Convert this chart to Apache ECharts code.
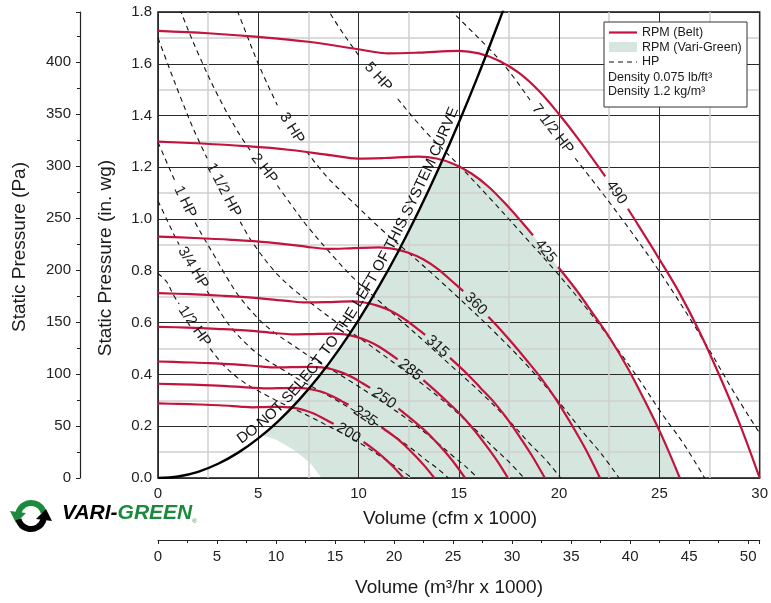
<!DOCTYPE html>
<html><head><meta charset="utf-8">
<script src="https://cdn.jsdelivr.net/npm/echarts@6/dist/echarts.min.js"></script>
<style>html,body{margin:0;padding:0;background:#fff}#c{width:771px;height:603px}</style>
</head><body><div id="c"></div>
<script>
// ---------------- DATA ----------------
const cfmRange = [0, 30];            // Volume (cfm x 1000)
const inwgRange = [0, 1.8];          // Static pressure (in. wg)
const paRange = [0, 448.36];         // same span in Pa
const m3hRange = [0, 50.97];         // same span in m3/hr x 1000

// RPM (belt) curves, split where the rpm label interrupts the line
const rpm490A = [[0,1.727],[2.5,1.718],[5,1.704],[7.5,1.685],[10,1.656],[11.5,1.640],[13,1.643],[15,1.650],[16,1.640],[17,1.612],[18,1.565],[19,1.495],[20,1.405],[21,1.305],[22.3,1.165]];
const rpm490B = [[23.43,1.040],[24,0.970],[25,0.845],[26,0.715],[27,0.565],[28,0.395],[29,0.210],[30,0]];
const rpm425A = [[0,1.299],[2.17,1.292],[4.34,1.282],[6.5,1.268],[8.67,1.246],[9.97,1.234],[11.27,1.236],[13.01,1.241],[13.88,1.234],[14.74,1.213],[15.61,1.177],[16.48,1.125],[17.35,1.057],[18.21,0.982],[18.7,0.937]];
const rpm425B = [[19.95,0.815],[20.82,0.730],[21.68,0.636],[22.55,0.538],[23.42,0.425],[24.28,0.297],[25.15,0.158],[26.02,0]];
const rpm360A = [[0,0.932],[1.84,0.927],[3.67,0.920],[5.51,0.910],[7.35,0.894],[8.45,0.885],[9.55,0.887],[11.02,0.891],[11.76,0.885],[12.49,0.870],[13.22,0.845],[13.96,0.807],[14.69,0.758],[15.22,0.722]];
const rpm360B = [[16.47,0.623],[16.9,0.588],[17.63,0.524],[18.37,0.456],[19.1,0.386],[19.84,0.305],[20.57,0.213],[21.31,0.113],[22.04,0]];
const rpm315A = [[0,0.714],[1.61,0.710],[3.21,0.704],[4.82,0.696],[6.43,0.684],[7.39,0.678],[8.36,0.679],[9.64,0.682],[10.29,0.678],[10.93,0.666],[11.57,0.647],[12.21,0.618],[12.86,0.581],[13.32,0.553]];
const rpm315B = [[14.56,0.464],[15.43,0.401],[16.07,0.349],[16.72,0.296],[17.36,0.234],[18.0,0.163],[18.64,0.087],[19.29,0]];
const rpm285A = [[0,0.584],[1.45,0.581],[2.91,0.576],[4.36,0.570],[5.82,0.560],[6.69,0.555],[7.56,0.556],[8.72,0.558],[9.31,0.555],[9.89,0.545],[10.47,0.529],[11.05,0.506],[11.95,0.458]];
const rpm285B = [[13.23,0.378],[13.96,0.328],[14.54,0.286],[15.12,0.242],[15.7,0.191],[16.28,0.134],[16.87,0.071],[17.45,0]];
const rpm250A = [[0,0.450],[1.28,0.447],[2.55,0.444],[3.83,0.439],[5.1,0.431],[5.87,0.427],[6.63,0.428],[7.65,0.429],[8.16,0.427],[8.67,0.420],[9.18,0.407],[9.69,0.389],[10.2,0.366],[10.58,0.348]];
const rpm250B = [[11.99,0.268],[12.76,0.220],[13.27,0.186],[13.78,0.147],[14.29,0.103],[14.8,0.055],[15.31,0]];
const rpm225A = [[0,0.364],[1.15,0.362],[2.3,0.359],[3.44,0.355],[4.59,0.349],[5.28,0.346],[5.97,0.347],[6.89,0.348],[7.35,0.346],[7.81,0.340],[8.27,0.330],[8.72,0.315],[9.18,0.296],[9.5,0.283]];
const rpm225B = [[11.16,0.195],[11.94,0.151],[12.4,0.119],[12.86,0.083],[13.32,0.044],[13.78,0]];
const rpm200A = [[0,0.288],[1.02,0.286],[2.04,0.284],[3.06,0.281],[4.08,0.276],[4.69,0.273],[5.31,0.274],[6.12,0.275],[6.53,0.273],[6.94,0.269],[7.35,0.261],[7.76,0.249],[8.16,0.234],[8.76,0.209]];
const rpm200B = [[10.25,0.139],[10.61,0.119],[11.02,0.094],[11.43,0.066],[11.84,0.035],[12.24,0]];

// HP lines, split where the HP label interrupts the line
const hp750A = [[13.9,1.86],[15.2,1.76],[17.2,1.60],[18.55,1.46]];
const hp750B = [[20.8,1.235],[22.8,1.035],[25.07,0.79],[27.4,0.506],[28.74,0.328],[30,0.173]];
const hp500A = [[6.95,2.04],[8.6,1.793],[10.0,1.633]];
const hp500B = [[11.95,1.465],[13.28,1.343],[15.03,1.206],[16.6,1.076],[18.17,0.942],[19.92,0.79],[21.9,0.603],[23.94,0.386],[25.11,0.25],[26.21,0.132],[27.26,0]];
const hp300A = [[3.09,1.966],[4.03,1.79],[5.0,1.60],[5.95,1.44]];
const hp300B = [[7.4,1.262],[8.44,1.162],[9.95,1.048],[11.2,0.956],[12.67,0.858],[14.0,0.766],[15.33,0.671],[16.8,0.562],[18.47,0.429],[20.19,0.275],[21.18,0.178],[22.1,0.094],[22.99,0]];
const hp200A = [[0.64,1.91],[1.2,1.79],[2.0,1.64],[3.0,1.475],[4.0,1.335],[4.65,1.26]];
const hp200B = [[5.95,1.13],[6.6,1.06],[7.37,0.98],[8.69,0.86],[9.78,0.77],[11.07,0.68],[12.23,0.60],[13.39,0.52],[14.68,0.429],[16.14,0.327],[17.64,0.21],[18.5,0.136],[19.31,0.072],[20.08,0]];
const hp150A = [[0,1.70],[0.58,1.58],[1.09,1.477],[1.75,1.351],[2.45,1.235]];
const hp150B = [[4.1,0.99],[4.65,0.917],[5.75,0.804],[6.7,0.732],[7.89,0.66],[8.89,0.602],[10.06,0.54],[11.11,0.482],[12.16,0.422],[13.33,0.354],[14.66,0.27],[16.02,0.173],[16.81,0.112],[17.54,0.059],[18.25,0]];
const hp100A = [[0,1.297],[0.51,1.206],[0.85,1.146]];
const hp100B = [[1.85,0.987],[2.15,0.945],[2.79,0.861],[3.47,0.77],[4.06,0.70],[5.03,0.613],[5.85,0.559],[6.9,0.504],[7.77,0.459],[8.79,0.412],[9.71,0.368],[10.63,0.322],[11.65,0.27],[12.81,0.206],[14.0,0.132],[14.68,0.086],[15.33,0.045],[15.94,0]];
const hp075A = [[0,1.07],[0.46,0.995],[0.86,0.93],[1.05,0.902]];
const hp075B = [[2.45,0.722],[3.15,0.635],[3.69,0.577],[4.57,0.506],[5.32,0.461],[6.27,0.416],[7.06,0.379],[7.98,0.34],[8.82,0.304],[9.66,0.266],[10.58,0.223],[11.64,0.17],[12.72,0.109],[13.34,0.071],[13.93,0.037],[14.48,0]];
const hp050A = [[0,0.79],[0.41,0.76],[0.75,0.71],[1.05,0.672]];
const hp050B = [[2.6,0.50],[3.22,0.44],[3.99,0.386],[4.64,0.352],[5.47,0.317],[6.16,0.289],[6.97,0.26],[7.7,0.232],[8.43,0.203],[9.25,0.17],[10.17,0.13],[11.11,0.083],[11.65,0.054],[12.17,0.028],[12.65,0]];

// System curve
const sysCurve = [[0,0],[1,0.006],[2,0.024],[3,0.055],[4,0.098],[5,0.153],[6,0.22],[7,0.299],[8,0.39],[9,0.494],[10,0.61],[11,0.738],[12,0.878],[13,1.031],[14,1.196],[15,1.373],[16,1.562],[17,1.763],[17.5,1.868]];
const sysText = 'DO NOT SELECT TO THE LEFT OF THIS SYSTEM CURVE';

// Vari-Green region boundary pieces
const vgLowerEdge = [[5.2,0.165],[5.9,0.148],[6.8,0.107],[7.6,0.057],[8.15,0]];
const vgCorner = [14.12, 1.222];

const rpmLabels = ['490','425','360','315','285','250','225','200'];
const hpLabels = ['7 1/2 HP','5 HP','3 HP','2 HP','1 1/2 HP','1 HP','3/4 HP','1/2 HP'];

// ---------------- STYLE ----------------
const FONT = 'Liberation Sans';
const RED = '#c2143c';
const VGFILL = '#d5e6de';
const LOGOGREEN = '#1b8a3c';
const INK = '#1a1a1a';
const SMOOTH = 0.35;

const rpmSets = [[rpm490A,rpm490B],[rpm425A,rpm425B],[rpm360A,rpm360B],[rpm315A,rpm315B],[rpm285A,rpm285B],[rpm250A,rpm250B],[rpm225A,rpm225B],[rpm200A,rpm200B]];
const hpSets = [[hp750A,hp750B],[hp500A,hp500B],[hp300A,hp300B],[hp200A,hp200B],[hp150A,hp150B],[hp100A,hp100B],[hp075A,hp075B],[hp050A,hp050B]];

const rpm425All = rpm425A.concat(rpm425B);
const vgPolygon = [vgLowerEdge[0]]
  .concat(sysCurve.filter(p => p[0] > vgLowerEdge[0][0] && p[0] < vgCorner[0]))
  .concat([vgCorner])
  .concat(rpm425All.filter(p => p[0] > vgCorner[0]))
  .concat(vgLowerEdge.slice(1).reverse());

const series = [];
series.push({
  type:'custom', coordinateSystem:'cartesian2d', xAxisIndex:0, yAxisIndex:0,
  data:[[0,0]], z:-1, silent:true,
  renderItem:(params, api) => ({type:'polygon', shape:{points: vgPolygon.map(p => api.coord(p)), smooth:0}, style:{fill:VGFILL}})
});
hpSets.forEach(s => s.forEach(d => series.push({
  type:'line', data:d, smooth:SMOOTH, symbol:'none', silent:true, z:3,
  lineStyle:{color:'#111', width:1.1, type:[5,4]}
})));
series.push({type:'line', data:sysCurve, smooth:SMOOTH, symbol:'none', silent:true, z:5,
  lineStyle:{color:'#000', width:2.4}});
rpmSets.forEach(s => s.forEach(d => series.push({
  type:'line', data:d, smooth:SMOOTH, symbol:'none', silent:true, z:4,
  lineStyle:{color:RED, width:2.2}
})));

const tickLabel = {fontFamily:FONT, fontSize:15, color:'#222'};

const chart = echarts.init(document.getElementById('c'), null, {renderer:'canvas'});
chart.setOption({
  animation:false,
  textStyle:{fontFamily:FONT},
  grid:{left:158, right:9, top:12, bottom:125, show:true, borderColor:'#111', borderWidth:1.5, backgroundColor:'transparent'},
  xAxis:[
    {type:'value', min:cfmRange[0], max:cfmRange[1], interval:5, position:'bottom',
     axisLine:{show:false}, axisTick:{show:false},
     axisLabel:Object.assign({margin:8}, tickLabel),
     splitLine:{show:true, lineStyle:{color:'#2a2a2a', width:1}},
     minorTick:{show:false, splitNumber:2},
     minorSplitLine:{show:true, lineStyle:{color:'#d0d0d0', width:1.5}}},
    {type:'value', min:m3hRange[0], max:m3hRange[1], interval:5, position:'bottom', offset:62,
     axisLine:{show:true, onZero:false, lineStyle:{color:'#222', width:1.2}},
     axisTick:{show:true, length:4, lineStyle:{color:'#222'}},
     minorTick:{show:true, splitNumber:2, length:3, lineStyle:{color:'#222'}},
     axisLabel:Object.assign({margin:9, formatter:v => (Math.abs(v - Math.round(v/5)*5) < 1e-6 ? String(Math.round(v)) : '')}, tickLabel),
     splitLine:{show:false}, minorSplitLine:{show:false}}
  ],
  yAxis:[
    {type:'value', min:inwgRange[0], max:inwgRange[1], interval:0.2,
     axisLine:{show:false}, axisTick:{show:false},
     axisLabel:Object.assign({margin:6, formatter:v => v.toFixed(1)}, tickLabel),
     splitLine:{show:true, lineStyle:{color:'#2a2a2a', width:1}},
     minorTick:{show:false, splitNumber:2},
     minorSplitLine:{show:true, lineStyle:{color:'#d0d0d0', width:1.5}}},
    {type:'value', min:paRange[0], max:paRange[1], interval:50, position:'left', offset:78,
     axisLine:{show:true, onZero:false, lineStyle:{color:'#222', width:1.2}},
     axisTick:{show:true, length:4, lineStyle:{color:'#222'}},
     minorTick:{show:true, splitNumber:2, length:3, lineStyle:{color:'#222'}},
     axisLabel:Object.assign({margin:9, formatter:v => (Math.abs(v - Math.round(v/50)*50) < 1e-6 ? String(Math.round(v)) : '')}, tickLabel),
     splitLine:{show:false}, minorSplitLine:{show:false}}
  ],
  series:series
});

// ---------------- LABELS / DECORATION ----------------
function toPx(p){ return chart.convertToPixel({xAxisIndex:0, yAxisIndex:0}, p); }

function gapLabel(text, a, b, size){
  const pa = toPx(a[a.length-1]), pb = toPx(b[0]);
  const cx = (pa[0]+pb[0])/2, cy = (pa[1]+pb[1])/2;
  const rot = Math.atan2(-(pb[1]-pa[1]), pb[0]-pa[0]);
  return {type:'text', x:cx, y:cy, rotation:rot, silent:true, z:20,
    style:{text:text, fontFamily:FONT, fontSize:size, fill:INK, align:'center', verticalAlign:'middle'}};
}

const measureCtx = document.createElement('canvas').getContext('2d');
function curvedText(str, pts, startX, size, offset){
  const P = pts.map(toPx);
  const L = [0];
  for (let i=1;i<P.length;i++) L.push(L[i-1] + Math.hypot(P[i][0]-P[i-1][0], P[i][1]-P[i-1][1]));
  function at(s){
    let i = 1;
    while (i < P.length-1 && L[i] < s) i++;
    const t = (s - L[i-1]) / (L[i]-L[i-1]);
    return [P[i-1][0] + t*(P[i][0]-P[i-1][0]), P[i-1][1] + t*(P[i][1]-P[i-1][1])];
  }
  const sx = toPx([startX, 0])[0];
  let s0 = 0;
  for (let i=1;i<P.length;i++){
    if (P[i][0] >= sx){ const t=(sx-P[i-1][0])/(P[i][0]-P[i-1][0]); s0 = L[i-1] + t*(L[i]-L[i-1]); break; }
  }
  measureCtx.font = size + 'px "' + FONT + '"';
  const out = [];
  let s = s0;
  for (const ch of str){
    const w = measureCtx.measureText(ch).width;
    const sm = s + w/2;
    const p = at(sm), p1 = at(sm-10), p2 = at(sm+10);
    let tx = p2[0]-p1[0], ty = p2[1]-p1[1];
    const n = Math.hypot(tx,ty); tx/=n; ty/=n;
    const nx = ty, ny = -tx;
    if (ch !== ' ') out.push({type:'text', x:p[0]+nx*offset, y:p[1]+ny*offset, rotation:Math.atan2(-ty, tx), silent:true, z:20,
      style:{text:ch, fontFamily:FONT, fontSize:size, fill:'#111', align:'center', verticalAlign:'bottom'}});
    s += w;
  }
  return out;
}

const graphics = [];
rpmSets.forEach((s,i) => graphics.push(gapLabel(rpmLabels[i], s[0], s[1], 15)));
hpSets.forEach((s,i) => graphics.push(gapLabel(hpLabels[i], s[0], s[1], 15)));
curvedText(sysText, sysCurve, 4.3, 15, 2).forEach(g => graphics.push(g));

// axis titles
graphics.push({type:'text', x:20, y:247, rotation:Math.PI/2, silent:true,
  style:{text:'Static Pressure (Pa)', fontFamily:FONT, fontSize:19, fill:INK, align:'center', verticalAlign:'middle'}});
graphics.push({type:'text', x:106, y:258, rotation:Math.PI/2, silent:true,
  style:{text:'Static Pressure (in. wg)', fontFamily:FONT, fontSize:19, fill:INK, align:'center', verticalAlign:'middle'}});
graphics.push({type:'text', x:450, y:519, silent:true,
  style:{text:'Volume (cfm x 1000)', fontFamily:FONT, fontSize:19, fill:INK, align:'center', verticalAlign:'middle'}});
graphics.push({type:'text', x:449, y:588, silent:true,
  style:{text:'Volume (m³/hr x 1000)', fontFamily:FONT, fontSize:19, fill:INK, align:'center', verticalAlign:'middle'}});

// legend
const lg = {type:'group', x:0, y:0, z:30, silent:true, children:[
  {type:'rect', shape:{x:604, y:22, width:143, height:85}, style:{fill:'#fff', stroke:'#333', lineWidth:1}},
  {type:'line', shape:{x1:609, y1:32.5, x2:637, y2:32.5}, style:{stroke:RED, lineWidth:2.2}},
  {type:'text', x:642, y:33, style:{text:'RPM (Belt)', fontFamily:FONT, fontSize:12.5, fill:INK, verticalAlign:'middle'}},
  {type:'rect', shape:{x:609, y:42, width:28, height:10}, style:{fill:VGFILL}},
  {type:'text', x:642, y:48, style:{text:'RPM (Vari-Green)', fontFamily:FONT, fontSize:12.5, fill:INK, verticalAlign:'middle'}},
  {type:'line', shape:{x1:609, y1:62, x2:637, y2:62}, style:{stroke:'#111', lineWidth:1.1, lineDash:[5,4]}},
  {type:'text', x:642, y:62, style:{text:'HP', fontFamily:FONT, fontSize:12.5, fill:INK, verticalAlign:'middle'}},
  {type:'text', x:608, y:77.5, style:{text:'Density 0.075 lb/ft³', fontFamily:FONT, fontSize:12.5, fill:INK, verticalAlign:'middle'}},
  {type:'text', x:608, y:92, style:{text:'Density 1.2 kg/m³', fontFamily:FONT, fontSize:12.5, fill:INK, verticalAlign:'middle'}}
]};
graphics.push(lg);

// logo
measureCtx.font = 'italic bold 21px "' + FONT + '"';
const wVari = measureCtx.measureText('VARI-').width;
const wGreen = measureCtx.measureText('GREEN').width;
const logo = {type:'group', x:0, y:0, silent:true, children:[
  {type:'arc', shape:{cx:31, cy:516, r:13, startAngle:Math.PI*195/180, endAngle:Math.PI*345/180}, style:{stroke:LOGOGREEN, lineWidth:6, fill:null}},
  {type:'polygon', shape:{points:[[10,511],[26,513],[16,523]]}, style:{fill:LOGOGREEN}},
  {type:'arc', shape:{cx:31, cy:516, r:13, startAngle:Math.PI*15/180, endAngle:Math.PI*165/180}, style:{stroke:'#000', lineWidth:6, fill:null}},
  {type:'polygon', shape:{points:[[52,521],[36,519],[46,509]]}, style:{fill:'#000'}},
  {type:'text', x:62, y:513, style:{text:'VARI-', fontFamily:FONT, fontSize:21, fontWeight:'bold', fontStyle:'italic', fill:'#000', verticalAlign:'middle'}},
  {type:'text', x:62+wVari, y:513, style:{text:'GREEN', fontFamily:FONT, fontSize:21, fontWeight:'bold', fontStyle:'italic', fill:LOGOGREEN, verticalAlign:'middle'}},
  {type:'text', x:62+wVari+wGreen, y:521, style:{text:'®', fontFamily:FONT, fontSize:6, fill:LOGOGREEN, verticalAlign:'middle'}}
]};
graphics.push(logo);

chart.setOption({graphic:graphics});
</script>
</body></html>
